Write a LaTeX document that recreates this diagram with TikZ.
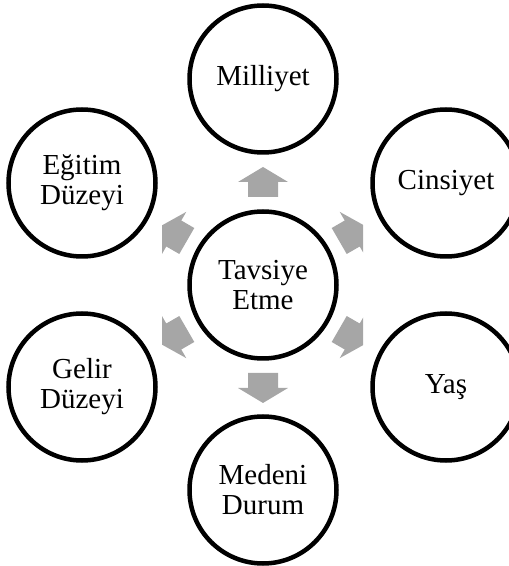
\documentclass[tikz,border=0pt]{standalone}
\usepackage{fontspec}
\setmainfont{Liberation Serif}
\definecolor{arrowgray}{HTML}{A6A6A6}
\begin{document}
\begin{tikzpicture}[x=1pt,y=1pt,
  bubble/.style={circle,draw=black,line width=4.5pt,minimum size=147pt,inner sep=0pt,
    align=center,font=\fontsize{29}{30}\selectfont},
  blockarrow/.style={fill=arrowgray,draw=none}]
\useasboundingbox (0,0) rectangle (509,566);
\node[bubble] (c) at (263,281) {Tavsiye\\Etme};
\node[bubble] (mil) at (263,487) {Milliyet};
\node[bubble] (med) at (263,76) {Medeni\\Durum};
\node[bubble] (egi) at (82,383) {Eğitim\\Düzeyi};
\node[bubble] (cin) at (446,383) {Cinsiyet};
\node[bubble] (gel) at (82,179) {Gelir\\Düzeyi};
\node[bubble] (yas) at (446,179) {Yaş};
\begin{scope}
\clip (162,0) rectangle (363,566);
\foreach \a in {90,30,-30,-90,-150,150}{
  \path[blockarrow,shift={(c.center)},rotate=\a]
    (88,-15) -- (103,-15) -- (103,-25) -- (118,0) -- (103,25) -- (103,15) -- (88,15) -- cycle;
}
\end{scope}
\end{tikzpicture}
\end{document}
